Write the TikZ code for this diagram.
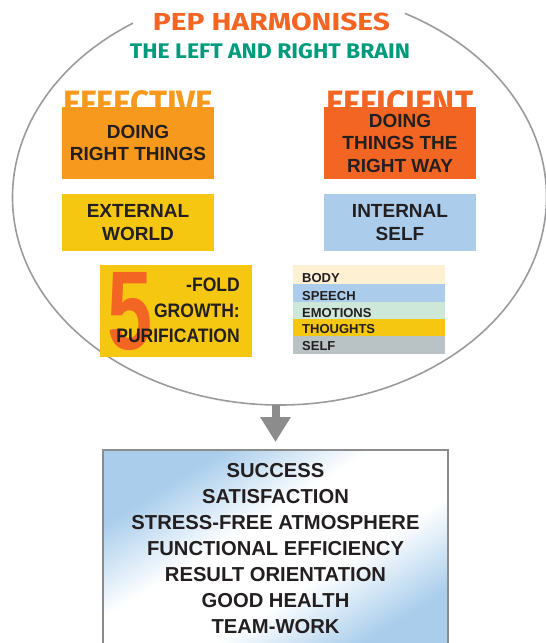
\documentclass[tikz,border=0pt]{standalone}
\usepackage{fontspec}
\setmainfont{Liberation Sans}
\newfontfamily\headfont{Fira Sans}
\usetikzlibrary{arrows.meta,shapes.geometric,calc}
\definecolor{ink}{HTML}{231F20}
\definecolor{orangeA}{HTML}{F7991D}
\definecolor{orangeB}{HTML}{F26522}
\definecolor{yellowA}{HTML}{F6C711}
\definecolor{blueA}{HTML}{ABCDEB}
\definecolor{bodyc}{HTML}{FEF0D3}
\definecolor{emoc}{HTML}{CDE7D8}
\definecolor{selfc}{HTML}{B9C3C5}
\definecolor{titlegreen}{HTML}{009B7C}
\definecolor{ringgray}{HTML}{9B9B9D}
\definecolor{arrowgray}{HTML}{8C8C8C}
\definecolor{boxblue}{HTML}{A9CDEB}
\pgfdeclareverticalshading{diagblue}{100bp}{color(0bp)=(boxblue); color(35bp)=(boxblue); color(45bp)=(white); color(55bp)=(white); color(65bp)=(boxblue); color(100bp)=(boxblue)}
\begin{document}
\begin{tikzpicture}[x=1pt,y=1pt,
  txt/.style={text=ink, font=\bfseries\fontsize{19}{22.5}\selectfont, align=center},
  cbox/.style={minimum width=152pt, inner sep=0pt, outer sep=0pt, anchor=north west},
  rowbox/.style={minimum width=152pt, inner sep=0pt, outer sep=0pt, anchor=north west},
  rowlbl/.style={anchor=base west, inner sep=0pt, text=ink, font=\bfseries\fontsize{13}{15}\selectfont},
  foldlbl/.style={anchor=base east, inner sep=0pt, text=ink, font=\bfseries\fontsize{19.5}{22}\selectfont},
  reslbl/.style={anchor=base, inner sep=0pt, text=ink, font=\bfseries\fontsize{20.2}{22}\selectfont}]
\useasboundingbox (0,0) rectangle (546,-643);
\clip (0,0) rectangle (546,-643);

% ring
\node[ellipse, minimum width=534pt, minimum height=416pt, inner sep=0pt] (ell) at (279.5,-197) {};
\draw[ringgray, line width=1.6pt] ($(ell.center)+(123.3:267pt and 208pt)$)
  arc[start angle=123.3, end angle=422, x radius=267pt, y radius=208pt];

% titles
\node[anchor=base, inner sep=0pt, text=orangeB] (t1) at (271.5,-30.5)
  {\resizebox{237pt}{17.5pt}{\headfont\bfseries PEP HARMONISES}};
\node[anchor=base, inner sep=0pt, text=titlegreen] (t2) at (270,-58)
  {\resizebox{280pt}{15pt}{\headfont\bfseries THE LEFT AND RIGHT BRAIN}};

% headings (partly hidden by boxes)
\node[anchor=base west, inner sep=0pt, text=orangeA] (h1) at (63,-115)
  {\resizebox{150pt}{25pt}{\headfont\bfseries EFFECTIVE}};
\node[anchor=base west, inner sep=0pt, text=orangeB] (h2) at (326,-115)
  {\resizebox{147pt}{25pt}{\headfont\bfseries EFFICIENT}};

% boxes
\node[cbox, fill=orangeA, minimum height=72pt, txt] (b1) at (62,-107) {DOING\\RIGHT THINGS};
\node[cbox, fill=orangeB, minimum height=72pt, txt] (b2) at (324,-107) {DOING\\THINGS THE\\RIGHT WAY};
\node[cbox, fill=yellowA, minimum height=57pt, txt] (b3) at (62,-194) {EXTERNAL\\WORLD};
\node[cbox, fill=blueA, minimum height=57pt, txt] (b4) at (324,-194) {INTERNAL\\SELF};

% five-fold
\node[cbox, fill=yellowA, minimum height=92pt] (b5) at (100,-265) {};
\node[anchor=south west, inner sep=0pt, text=orangeB] (five) at (107,-351)
  {\resizebox{45pt}{77pt}{\bfseries 5}};
\node[foldlbl] (f1) at (240,-291) {\scalebox{0.9}[1]{-FOLD}};
\node[foldlbl] (f2) at (240,-317) {\scalebox{0.9}[1]{GROWTH:}};
\node[foldlbl] (f3) at (240,-342) {\scalebox{0.9}[1]{PURIFICATION}};

% list
\node[rowbox, fill=bodyc, minimum height=19pt] (r1) at (293,-265) {};
\node[rowbox, fill=blueA, minimum height=18pt] (r2) at (293,-284) {};
\node[rowbox, fill=emoc, minimum height=17pt] (r3) at (293,-302) {};
\node[rowbox, fill=yellowA, minimum height=17pt] (r4) at (293,-319) {};
\node[rowbox, fill=selfc, minimum height=18pt] (r5) at (293,-336) {};
\node[rowlbl] (l1) at (302,-282.5) {BODY};
\node[rowlbl] (l2) at (302,-300) {SPEECH};
\node[rowlbl] (l3) at (302,-317) {EMOTIONS};
\node[rowlbl] (l4) at (302,-333.5) {THOUGHTS};
\node[rowlbl] (l5) at (302,-350.5) {SELF};

% result box
\node[draw=arrowgray, line width=2pt, anchor=north, minimum width=345pt, minimum height=215pt,
  inner sep=0pt,
  path picture={\begin{scope}[shift={($(path picture bounding box.center)+(0pt,8pt)$)}]
      \shade[shading=diagblue, shading angle=32] (-200pt,-200pt) rectangle (200pt,200pt);
    \end{scope}}]
  (res) at (275.5,-449) {};
\node[reslbl] (s1) at (275.5,-477.3) {SUCCESS};
\node[reslbl] (s2) at (275.5,-503.3) {SATISFACTION};
\node[reslbl] (s3) at (275.5,-529.5) {STRESS-FREE ATMOSPHERE};
\node[reslbl] (s4) at (275.5,-555.7) {FUNCTIONAL EFFICIENCY};
\node[reslbl] (s5) at (275.5,-581.7) {RESULT ORIENTATION};
\node[reslbl] (s6) at (275.5,-607.5) {GOOD HEALTH};
\node[reslbl] (s7) at (275.5,-633.3) {TEAM-WORK};

% arrow
\draw[arrowgray, line width=8pt, -{Triangle[width=29pt,length=25pt]}, shorten >=7pt]
  (ell.south -| res.north) -- (res.north);
\end{tikzpicture}
\end{document}
